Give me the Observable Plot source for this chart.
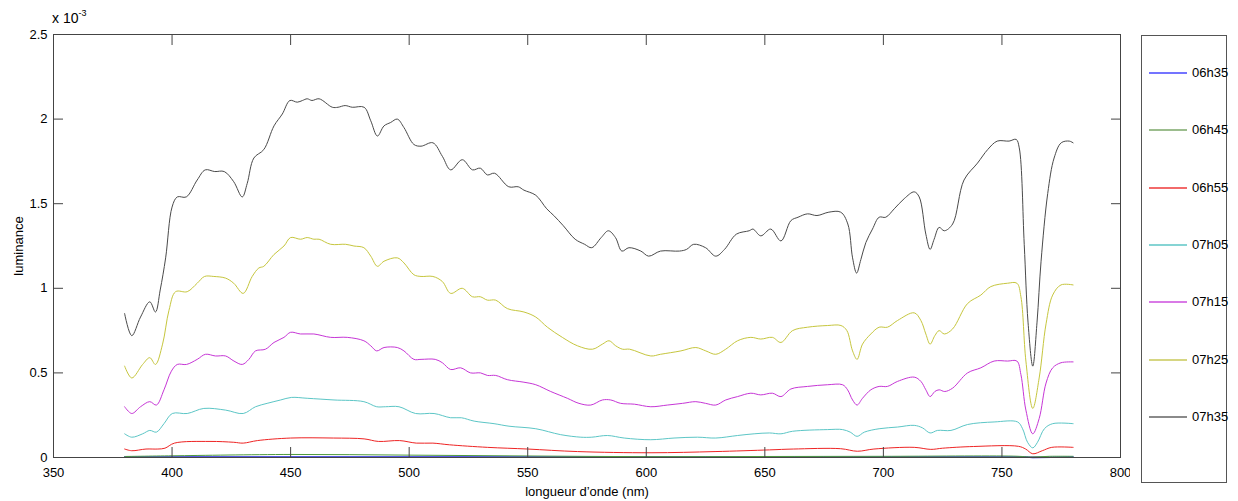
<!DOCTYPE html>
<html><head><meta charset="utf-8">
<script src="https://cdn.jsdelivr.net/npm/d3@7"></script>
<script src="https://cdn.jsdelivr.net/npm/@observablehq/plot@0.6"></script>
<style>
body{margin:0;background:#fff;font-family:"Liberation Sans",Arial,Helvetica,sans-serif;}
#wrap{position:relative;width:1238px;height:501px;overflow:hidden;}
#chart{position:absolute;left:0;top:0;}
#mult{position:absolute;left:52px;top:9px;font-size:14px;color:#000;white-space:nowrap;}
#mult sup{font-size:9px;position:relative;top:-1px;}
#legend{position:absolute;left:1141px;top:35px;width:86px;height:448px;border:1px solid #555;box-sizing:border-box;background:#fff;}
.item{position:absolute;left:7px;height:16px;width:78px;font-size:13px;color:#000;}
.item .sw{position:absolute;left:0;top:7px;width:38px;height:2px;}
.item .lb{position:absolute;left:43px;top:0;line-height:16px;}
</style>
</head><body>
<div id="wrap"><div id="chart"></div><div id="mult">x 10<sup>-3</sup></div><div id="legend"></div></div>
<script>
// values in units of 1e-3
const seriesNames = ["06h35","06h45","06h55","07h05","07h15","07h25","07h35"];
const seriesColors = ["#2020e0","#4e9a3e","#ee2424","#5cc6c6","#c636d6","#c6c63e","#4a4a4a"];
const legendColors = ["#7474ff","#9cbd8e","#f26a6a","#86d4d4","#d97ae6","#d6d682","#8a8a8a"];

const wl0635 = [380,450,550,650,760,763,780];
const lum0635 = [0.002,0.003,0.002,0.002,0.002,0.001,0.002];

const wl0645 = [380,400,450,500,550,600,650,700,755,763,770,780];
const lum0645 = [0.006,0.010,0.018,0.014,0.009,0.005,0.006,0.007,0.008,0.003,0.007,0.007];

const wl0655 = [380,383,389,394,397,401,416,426,430,436,450,468,481,487,496,503,510,517,533,550,571,602,629,652,662,682,689,696,713,720,725,738,757,760,763,767,771,780];
const lum0655 = [0.05,0.04,0.05,0.05,0.055,0.085,0.095,0.09,0.085,0.10,0.115,0.115,0.11,0.095,0.10,0.085,0.085,0.075,0.06,0.05,0.035,0.028,0.035,0.045,0.05,0.052,0.037,0.05,0.06,0.048,0.055,0.065,0.066,0.05,0.022,0.04,0.06,0.06];

const wl0705 = [380,383,387.6,390.6,393.4,396.6,400.1,406.4,413.4,422.6,430,435.2,440.1,445.8,450.3,457,468.3,480.9,486.3,490,495.7,502.7,510.5,517.5,522,527.4,535.8,542.1,553.4,563.9,572.4,577,583.6,590.7,601.9,611.7,621.6,629.3,638.5,645.5,652,656.8,661.7,676.5,682.8,686,688.9,692,698.2,706,713,716.5,719.7,722.8,728.5,735.5,746.7,756.6,758.7,760.8,763,765,767.9,771.4,780];
const lum0705 = [0.14,0.12,0.14,0.16,0.15,0.20,0.26,0.26,0.29,0.28,0.26,0.30,0.32,0.34,0.355,0.35,0.34,0.33,0.30,0.30,0.30,0.26,0.26,0.235,0.235,0.215,0.20,0.185,0.17,0.135,0.12,0.12,0.13,0.115,0.105,0.115,0.12,0.115,0.13,0.14,0.145,0.14,0.155,0.165,0.165,0.15,0.125,0.15,0.17,0.18,0.19,0.175,0.145,0.16,0.16,0.195,0.21,0.21,0.17,0.09,0.057,0.09,0.17,0.20,0.20];

const wl0715 = [380,383,386.7,390.6,393.4,396.6,399.7,402.2,406.1,410.6,414.1,418.3,422.6,426.1,429.6,432.4,435.2,439.4,443,447.2,450,454.2,459.8,466.9,473.9,480.9,483.8,486.3,489.4,495,497.8,502,505,511,514,517.5,521.7,525.9,530.1,533,536.5,541.4,548.4,553.4,559.7,566.7,571.6,576.6,581.5,585,589.2,595,601.9,608.9,615.3,620.9,625,629.3,633.5,638.5,644.1,648.3,653.2,656.8,661,668,676.5,682.8,684.9,687,688.9,691.2,694.7,698.2,701.7,706,713,715.8,717.9,719.7,721.7,723.5,725.9,729.2,735.5,741.1,746.7,752.4,756.3,758,760.1,763,765.7,768.6,771.4,774.9,780];
const lum0715 = [0.30,0.26,0.30,0.33,0.31,0.40,0.51,0.55,0.55,0.58,0.61,0.60,0.60,0.57,0.55,0.58,0.63,0.64,0.68,0.71,0.74,0.73,0.73,0.71,0.71,0.69,0.66,0.63,0.65,0.65,0.63,0.58,0.58,0.58,0.56,0.52,0.53,0.50,0.50,0.485,0.485,0.46,0.445,0.43,0.39,0.35,0.32,0.31,0.34,0.34,0.32,0.315,0.30,0.31,0.32,0.33,0.32,0.31,0.34,0.36,0.38,0.37,0.38,0.36,0.405,0.42,0.43,0.43,0.40,0.34,0.31,0.35,0.40,0.42,0.42,0.45,0.475,0.45,0.40,0.36,0.39,0.40,0.39,0.41,0.50,0.53,0.57,0.57,0.57,0.49,0.28,0.14,0.23,0.44,0.53,0.56,0.565];

const wl0725 = [380,383,387.6,390.6,393,396,398.7,401.5,406.4,410.6,413.7,417.6,422.6,426,430,433.8,436.6,438.7,443,447.2,450,454.2,457,459.8,462,466.9,473.2,476.7,480.9,483.8,486.6,489.4,495,497.8,502,505,510,514,517.5,522.4,526.7,530,533,536.5,541.4,548.4,553.4,558.3,564.6,571,577.3,581.5,584.3,587.1,590,593,601.9,606,614.6,620.9,625.1,629.3,633.5,638.5,644.1,648.3,653.2,656.8,661.7,668,676.5,682.1,684.6,687,688.9,691.2,694.7,698.2,701.7,706,713,715.8,717.9,719.7,721.7,723.5,725.7,729.2,735.5,741.1,745.3,752.4,756.3,758,760.1,763,765.7,768.6,771.4,774.9,780];
const lum0725 = [0.54,0.47,0.55,0.59,0.55,0.67,0.87,0.98,0.98,1.03,1.07,1.07,1.06,1.03,0.97,1.07,1.12,1.13,1.20,1.25,1.30,1.29,1.30,1.29,1.29,1.26,1.26,1.25,1.24,1.19,1.13,1.16,1.18,1.15,1.08,1.07,1.07,1.04,0.97,1.00,0.95,0.95,0.93,0.93,0.88,0.86,0.83,0.77,0.71,0.66,0.64,0.67,0.69,0.66,0.64,0.64,0.60,0.61,0.63,0.65,0.63,0.61,0.64,0.69,0.71,0.70,0.71,0.68,0.75,0.77,0.78,0.78,0.75,0.63,0.58,0.67,0.73,0.77,0.77,0.81,0.855,0.81,0.73,0.67,0.72,0.75,0.73,0.76,0.91,0.96,1.01,1.03,1.03,0.95,0.57,0.29,0.47,0.79,0.96,1.02,1.02];

const wl0735 = [380,383,386.7,390.6,393,395,397.3,400,402.2,406,410.6,414,418,422,426,429.6,431.7,434.5,438.7,443,446.5,449.7,452.8,455,457,459,462,467.6,470,473,476,481,483.8,486.6,489.4,492.2,495,497.8,502,505,510,514,517.5,522.4,526.7,530,533,536,542,546,548.4,553.4,558,561,565,570,574,577,581,584,587,589.7,592.7,597.7,601,606,614,617,620,625,629.3,633,638,643.4,645,648.3,652.5,656.8,661,664,668,672,677,682,685,687,688.7,690.5,692.6,695.4,698.2,701,704.6,708.8,713,715.1,717.9,719.7,721.4,723.5,725.7,729.2,734,739.7,744,748,753,756,757.3,759.4,761,763,764.8,766.5,769.3,772,775,778.4,780];
const lum0735 = [0.85,0.72,0.83,0.92,0.86,0.99,1.18,1.48,1.54,1.54,1.64,1.70,1.69,1.69,1.63,1.54,1.62,1.77,1.82,1.96,2.03,2.11,2.10,2.11,2.12,2.11,2.12,2.07,2.07,2.08,2.07,2.07,1.99,1.90,1.96,1.98,2.00,1.95,1.85,1.84,1.86,1.78,1.70,1.76,1.70,1.71,1.67,1.68,1.60,1.60,1.58,1.55,1.47,1.43,1.37,1.29,1.26,1.24,1.30,1.34,1.30,1.22,1.24,1.22,1.19,1.22,1.22,1.23,1.26,1.24,1.19,1.23,1.32,1.34,1.35,1.31,1.35,1.28,1.40,1.42,1.44,1.43,1.45,1.45,1.38,1.18,1.09,1.17,1.27,1.35,1.42,1.42,1.47,1.53,1.57,1.54,1.32,1.23,1.29,1.36,1.34,1.38,1.64,1.74,1.82,1.87,1.87,1.88,1.83,1.26,0.80,0.54,0.80,1.16,1.56,1.77,1.86,1.87,1.86];

const xTicks = [350,400,450,500,550,600,650,700,750,800];
const yTicks = [0,0.5,1,1.5,2,2.5];
const yTickLabels = ["0","0.5","1","1.5","2","2.5"];

const wls = [wl0635,wl0645,wl0655,wl0705,wl0715,wl0725,wl0735];
const lums = [lum0635,lum0645,lum0655,lum0705,lum0715,lum0725,lum0735];
const rows = [];
seriesNames.forEach((name,i)=>{
  wls[i].forEach((w,j)=>rows.push({series:name, wl:w, lum:lums[i][j]}));
});

const axisColor = "#444";
const chart = Plot.plot({
  width: 1130, height: 501,
  marginLeft: 53, marginRight: 10, marginTop: 34, marginBottom: 44,
  style: {fontFamily: '"Liberation Sans", Arial, sans-serif', fontSize: "13px", color: "#000", background: "#fff"},
  x: {domain: [350, 800]},
  y: {domain: [0, 2.5]},
  color: {domain: seriesNames, range: seriesColors},
  marks: [
    Plot.line(rows, {x:"wl", y:"lum", z:"series", stroke:"series", strokeWidth: d => d.series === "06h35" ? 1.6 : 1, curve:"catmull-rom"}),
    Plot.frame({stroke: axisColor, strokeWidth: 1}),
    Plot.axisX({ticks: xTicks, tickSize: -10, tickPadding: 20, stroke: axisColor, tickFormat: d => String(d),
      label: "longueur d’onde (nm)", labelAnchor: "center", labelArrow: "none", labelOffset: 38}),
    Plot.axisX({anchor: "top", ticks: xTicks, tickSize: -10, stroke: axisColor, tickFormat: () => "", label: null}),
    Plot.axisY({ticks: yTicks, tickSize: -10, tickPadding: 16, stroke: axisColor, tickFormat: d => yTickLabels[yTicks.indexOf(d)],
      label: "luminance", labelAnchor: "center", labelArrow: "none", labelOffset: 40}),
    Plot.axisY({anchor: "right", ticks: yTicks, tickSize: -10, stroke: axisColor, tickFormat: () => "", label: null})
  ]
});
document.getElementById("chart").appendChild(chart);

const legend = document.getElementById("legend");
seriesNames.forEach((name,i)=>{
  const it = document.createElement("div");
  it.className = "item";
  it.style.top = (29 + i*57.3) + "px";
  const sw = document.createElement("div");
  sw.className = "sw";
  sw.style.background = legendColors[i];
  const t = document.createElement("span");
  t.className = "lb";
  t.textContent = name;
  it.appendChild(sw); it.appendChild(t);
  legend.appendChild(it);
});
</script>
</body></html>
